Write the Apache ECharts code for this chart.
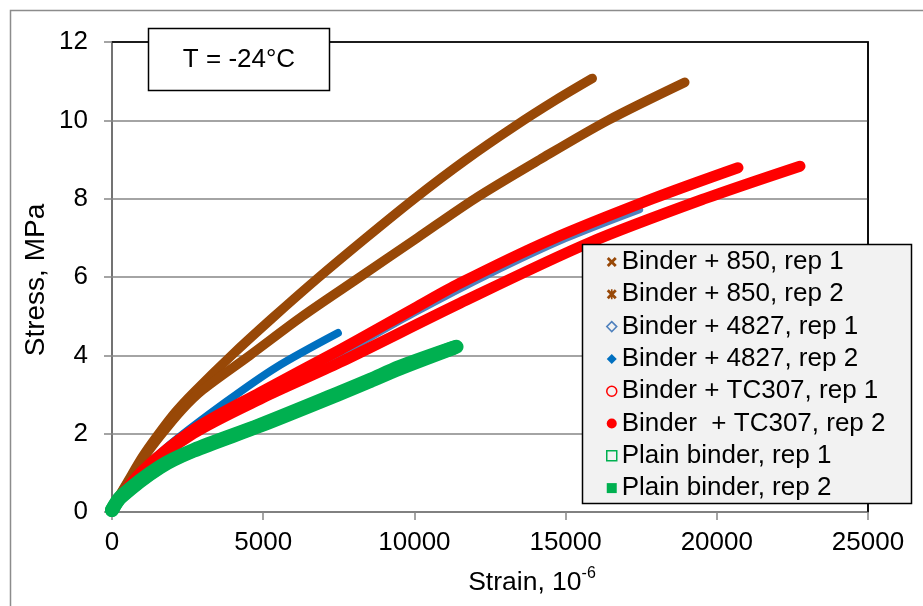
<!DOCTYPE html>
<html>
<head>
<meta charset="utf-8">
<title>Stress-strain, T = -24°C</title>
<script src="https://cdn.jsdelivr.net/npm/echarts@6/dist/echarts.min.js"></script>
<style>
  html, body { margin: 0; padding: 0; background: #ffffff; }
  #chart { width: 923px; height: 606px; }
</style>
</head>
<body>
<div id="chart"></div>
<script>
// Strain (10^-6) and stress (MPa) readings for each specimen
const strain850r1 = [0, 500, 1000, 1500, 2100, 2700, 3955, 5300, 6850, 8400, 10000, 11700, 13300, 14700, 15880];
const stress850r1 = [0.1, 0.75, 1.4, 1.95, 2.55, 3.05, 4.0, 4.95, 6.0, 7.0, 8.0, 8.99, 9.84, 10.53, 11.07];

const strain850r2 = [0, 500, 1000, 1600, 2300, 3000, 4560, 6300, 8200, 10100, 12000, 14150, 16400, 18940];
const stress850r2 = [0.1, 0.72, 1.33, 1.95, 2.6, 3.12, 4.0, 5.0, 6.0, 7.0, 8.0, 9.0, 10.0, 10.97];

const strain4827r1 = [0, 1000, 2689, 4892, 7537, 10000, 12500, 15000, 17450];
const stress4827r1 = [0.1, 1.0, 2.02, 2.95, 4.02, 5.08, 6.08, 6.98, 7.72];

const strain4827r2 = [0, 1000, 1917, 3790, 5443, 7470];
const stress4827r2 = [0.1, 1.05, 1.72, 2.82, 3.7, 4.57];

const strainTC307r1 = [0, 1000, 2689, 4892, 7537, 11503, 15800, 19600, 22750];
const stressTC307r1 = [0.1, 1.0, 2.0, 2.88, 3.82, 5.33, 6.88, 8.0, 8.83];

const strainTC307r2 = [0, 1000, 2689, 4892, 7537, 10000, 11503, 14478, 17880, 20700];
const stressTC307r2 = [0.1, 1.05, 2.1, 3.05, 4.14, 5.2, 5.84, 6.94, 8.0, 8.79];

const strainPlainR1 = [0, 300, 1587, 2689, 4892, 7537, 8530, 9500, 11300];
const stressPlainR1 = [0.05, 0.38, 1.14, 1.56, 2.2, 3.02, 3.34, 3.66, 4.19];

const strainPlainR2 = [0, 300, 1587, 2689, 4892, 7537, 8530, 9500, 11393];
const stressPlainR2 = [0.05, 0.4, 1.16, 1.58, 2.22, 3.05, 3.37, 3.7, 4.22];

const seriesNames = [
  'Binder + 850, rep 1',
  'Binder + 850, rep 2',
  'Binder + 4827, rep 1',
  'Binder + 4827, rep 2',
  'Binder + TC307, rep 1',
  'Binder  + TC307, rep 2',
  'Plain binder, rep 1',
  'Plain binder, rep 2'
];

const xTicks = [0, 5000, 10000, 15000, 20000, 25000];
const yTicks = [0, 2, 4, 6, 8, 10, 12];

const FONT = 'Arial, "Liberation Sans", sans-serif';
const BROWN = '#984807';
const BLUE_LIGHT = '#4f81bd';
const BLUE = '#0070c0';
const RED = '#ff0000';
const GREEN = '#00b050';
const AXIS_GREY = '#868686';

function pairs(xs, ys) {
  return xs.map((x, i) => [x, ys[i]]);
}

const lineData = [
  pairs(strain850r1, stress850r1),
  pairs(strain850r2, stress850r2),
  pairs(strain4827r1, stress4827r1),
  pairs(strain4827r2, stress4827r2),
  pairs(strainTC307r1, stressTC307r1),
  pairs(strainTC307r2, stressTC307r2),
  pairs(strainPlainR1, stressPlainR1),
  pairs(strainPlainR2, stressPlainR2)
];
const lineColors = [BROWN, BROWN, BLUE_LIGHT, BLUE, RED, RED, GREEN, GREEN];
const lineWidths = [9.5, 9.5, 7, 8, 11, 11, 14, 14];

// Legend marker shapes
const ICON_X = 'path://M2,0L5,3L8,0L10,2L7,5L10,8L8,10L5,7L2,10L0,8L3,5L0,2Z';
const ICON_STAR = 'path://M2,0L4.2,2.2L4.2,0L5.8,0L5.8,2.2L8,0L10,2L7,5L10,8L8,10L5.8,7.8L5.8,10L4.2,10L4.2,7.8L2,10L0,8L3,5L0,2Z';
const hollow = 'rgba(0,0,0,0)';
const legendData = [
  { name: seriesNames[0], icon: ICON_X, itemStyle: { color: BROWN } },
  { name: seriesNames[1], icon: ICON_STAR, itemStyle: { color: BROWN } },
  { name: seriesNames[2], icon: 'diamond', itemStyle: { color: hollow, borderColor: BLUE_LIGHT, borderWidth: 1.5 } },
  { name: seriesNames[3], icon: 'diamond', itemStyle: { color: BLUE } },
  { name: seriesNames[4], icon: 'circle', itemStyle: { color: hollow, borderColor: RED, borderWidth: 1.5 } },
  { name: seriesNames[5], icon: 'circle', itemStyle: { color: RED } },
  { name: seriesNames[6], icon: 'rect', itemStyle: { color: hollow, borderColor: GREEN, borderWidth: 1.5 } },
  { name: seriesNames[7], icon: 'rect', itemStyle: { color: GREEN } }
];

const chart = echarts.init(document.getElementById('chart'), null, { renderer: 'canvas' });

const option = {
  animation: false,
  backgroundColor: '#ffffff',
  textStyle: { fontFamily: FONT },
  grid: {
    left: 112, top: 42, right: 55, bottom: 94,
    show: true, borderColor: '#000000', borderWidth: 1.5, backgroundColor: 'transparent'
  },
  xAxis: {
    type: 'value',
    min: xTicks[0], max: xTicks[xTicks.length - 1], interval: xTicks[1] - xTicks[0],
    axisLine: { show: true, lineStyle: { color: AXIS_GREY, width: 1.5 } },
    axisTick: { show: true, inside: false, length: 8, lineStyle: { color: AXIS_GREY, width: 1.5 } },
    splitLine: { show: false },
    axisLabel: {
      margin: 18, color: '#000', fontSize: 26, fontFamily: FONT,
      showMaxLabel: true, showMinLabel: true,
      formatter: v => String(v)
    }
  },
  yAxis: {
    type: 'value',
    min: yTicks[0], max: yTicks[yTicks.length - 1], interval: yTicks[1] - yTicks[0],
    axisLine: { show: true, lineStyle: { color: AXIS_GREY, width: 1.5 } },
    axisTick: { show: true, inside: false, length: 8, lineStyle: { color: AXIS_GREY, width: 1.5 } },
    splitLine: { show: true, lineStyle: { color: AXIS_GREY, width: 1.5 } },
    axisLabel: {
      margin: 24, color: '#000', fontSize: 26, fontFamily: FONT,
      formatter: v => String(v)
    }
  },
  legend: {
    orient: 'vertical',
    left: 582, top: 244,
    padding: [5, 0, 0, 24],
    itemGap: 6.3,
    itemWidth: 10, itemHeight: 10,
    z: 20,
    selectedMode: false,
    textStyle: { fontSize: 26, fontFamily: FONT, color: '#000', lineHeight: 26 },
    data: legendData
  },
  series: lineData.map((data, i) => ({
    name: seriesNames[i],
    type: 'line',
    data: data,
    smooth: 0.3,
    symbol: 'none',
    showSymbol: false,
    z: 2,
    lineStyle: { color: lineColors[i], width: lineWidths[i], cap: 'round', join: 'round' },
    itemStyle: { color: lineColors[i] },
    emphasis: { disabled: true }
  }))
};

chart.setOption(option);

// Frame, plot-area top/right edges, annotation and legend boxes, axis titles
const pTopLeft = chart.convertToPixel({ gridIndex: 0 }, [xTicks[0], yTicks[yTicks.length - 1]]);
const pBottomRight = chart.convertToPixel({ gridIndex: 0 }, [xTicks[xTicks.length - 1], yTicks[0]]);

chart.setOption({
  graphic: [
    {
      type: 'rect', z: -10, silent: true,
      shape: { x: 10.5, y: 10.5, width: 1000, height: 1000 },
      style: { fill: 'none', stroke: '#8c8c8c', lineWidth: 1.5 }
    },
    {
      type: 'polyline', z: 1, silent: true,
      shape: { points: [[pTopLeft[0], pTopLeft[1]], [pBottomRight[0], pTopLeft[1]], [pBottomRight[0], pBottomRight[1]]] },
      style: { fill: 'none', stroke: '#000000', lineWidth: 1.5 }
    },
    {
      type: 'rect', z: 10, silent: true,
      shape: { x: 148.5, y: 28.5, width: 181, height: 62 },
      style: { fill: '#ffffff', stroke: '#000000', lineWidth: 1.5 }
    },
    {
      type: 'text', z: 11, silent: true, x: 239, y: 60,
      style: {
        text: 'T = -24°C', fill: '#000', fontSize: 26, fontFamily: FONT,
        align: 'center', verticalAlign: 'middle', textAlign: 'center', textVerticalAlign: 'middle'
      }
    },
    {
      type: 'rect', z: 10, silent: true,
      shape: { x: 582.5, y: 244.5, width: 329, height: 259 },
      style: { fill: '#f2f2f2', stroke: '#000000', lineWidth: 1.5 }
    },
    {
      type: 'text', z: 11, silent: true, x: 36, y: 280, rotation: Math.PI / 2,
      style: {
        text: 'Stress, MPa', fill: '#000', fontSize: 28, fontFamily: FONT,
        align: 'center', verticalAlign: 'middle', textAlign: 'center', textVerticalAlign: 'middle'
      }
    },
    {
      type: 'text', z: 11, silent: true, x: 532, y: 581,
      style: {
        text: '{a|Strain, 10}{b|-6}',
        align: 'center', verticalAlign: 'middle', textAlign: 'center', textVerticalAlign: 'middle',
        rich: {
          a: { fontSize: 26.5, fontFamily: FONT, fill: '#000', color: '#000', lineHeight: 30, verticalAlign: 'bottom' },
          b: { fontSize: 16, fontFamily: FONT, fill: '#000', color: '#000', lineHeight: 18, verticalAlign: 'top' }
        }
      }
    }
  ]
});
</script>
</body>
</html>
